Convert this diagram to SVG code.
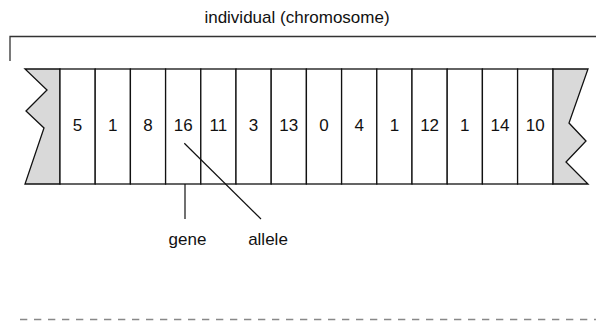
<svg xmlns="http://www.w3.org/2000/svg" width="596" height="321" viewBox="0 0 596 321">
<style>
text{font-family:"Liberation Sans",Arial,sans-serif;font-size:17px;fill:#111;}
.num{text-anchor:middle;}
.cell{fill:#fff;stroke:#111;stroke-width:1.3;}
.end{fill:#d9d9d9;stroke:#111;stroke-width:1.3;stroke-linejoin:miter;}
.ln{stroke:#111;stroke-width:1.2;fill:none;}
</style>
<rect width="596" height="321" fill="#fff"/>
<g id="bracket">
<path d="M10,61 V36.5 H596" fill="none" stroke="#333" stroke-width="1.3"/>
<text x="297" y="23" text-anchor="middle">individual (chromosome)</text>
</g>
<g id="chromosome">
<polygon id="left-end" class="end" points="25,69 60,69 60,184 25,184 44,128 26,111 47,90"/>
<polygon id="right-end" class="end" points="552.8,69 588,69 569,123 586,141 566,162 588,184 552.8,184"/>
<g id="g1"><rect class="cell" x="60" y="69" width="35.2" height="115"/><text class="num" x="77.6" y="131">5</text></g>
<g id="g2"><rect class="cell" x="95.2" y="69" width="35.2" height="115"/><text class="num" x="112.8" y="131">1</text></g>
<g id="g3"><rect class="cell" x="130.4" y="69" width="35.2" height="115"/><text class="num" x="148" y="131">8</text></g>
<g id="g4"><rect class="cell" x="165.6" y="69" width="35.2" height="115"/><text class="num" x="183.2" y="131">16</text></g>
<g id="g5"><rect class="cell" x="200.8" y="69" width="35.2" height="115"/><text class="num" x="218.4" y="131">11</text></g>
<g id="g6"><rect class="cell" x="236" y="69" width="35.2" height="115"/><text class="num" x="253.6" y="131">3</text></g>
<g id="g7"><rect class="cell" x="271.2" y="69" width="35.2" height="115"/><text class="num" x="288.8" y="131">13</text></g>
<g id="g8"><rect class="cell" x="306.4" y="69" width="35.2" height="115"/><text class="num" x="324" y="131">0</text></g>
<g id="g9"><rect class="cell" x="341.6" y="69" width="35.2" height="115"/><text class="num" x="359.2" y="131">4</text></g>
<g id="g10"><rect class="cell" x="376.8" y="69" width="35.2" height="115"/><text class="num" x="394.4" y="131">1</text></g>
<g id="g11"><rect class="cell" x="412" y="69" width="35.2" height="115"/><text class="num" x="429.6" y="131">12</text></g>
<g id="g12"><rect class="cell" x="447.2" y="69" width="35.2" height="115"/><text class="num" x="464.8" y="131">1</text></g>
<g id="g13"><rect class="cell" x="482.4" y="69" width="35.2" height="115"/><text class="num" x="500" y="131">14</text></g>
<g id="g14"><rect class="cell" x="517.6" y="69" width="35.2" height="115"/><text class="num" x="535.2" y="131">10</text></g>
</g>
<g id="connectors">
<line class="ln" x1="185" y1="184" x2="185" y2="219"/>
<line class="ln" x1="184.3" y1="143.3" x2="261" y2="219"/>
</g>
<g id="gene-label"><text x="187.5" y="245" text-anchor="middle">gene</text></g>
<g id="allele-label"><text x="268" y="245" text-anchor="middle">allele</text></g>
<line x1="20" y1="319.5" x2="596" y2="319.5" stroke="#888" stroke-width="1.6" stroke-dasharray="7.3 6.7"/>
</svg>
